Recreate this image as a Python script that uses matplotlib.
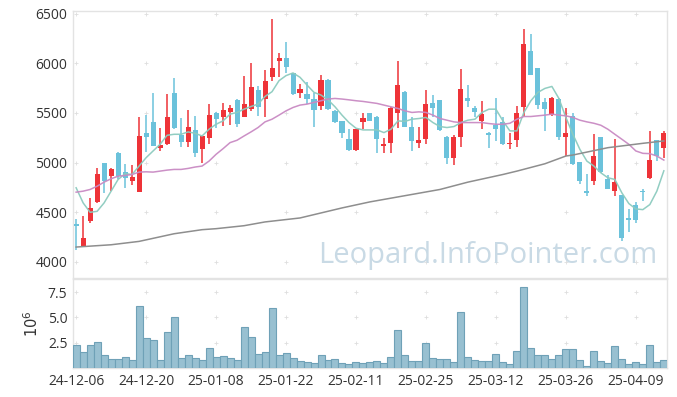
import matplotlib
matplotlib.use('Agg')
import matplotlib.pyplot as plt
import numpy as np

plt.rcParams['font.family'] = ['Open Sans', 'DejaVu Sans']

# OHLC per trading day (index 0..84)
opens = [4380, 4160, 4410, 4600, 5000, 4865, 5100, 4905, 4815, 4700,
         5295, 5405, 5150, 5190, 5705, 5275, 5210, 5325, 5135, 5250,
         5500, 5460, 5510, 5630, 5460, 5540, 5730, 5645, 5860, 6020,
         6055, 5905, 5700, 5690, 5645, 5570, 5830, 5520, 5415, 5235,
         5125, 5410, 5495, 5460, 5170, 5195, 5495, 5715, 5360, 5195,
         5235, 5600, 5630, 5260, 5050, 5260, 5655, 5550, 5420, 5300,
         5375, 5410, 5185, 5230, 5560, 6120, 5950, 5615, 5480, 5645,
         5260, 5465, 5005, 4710, 4815, 5255, 4830, 4710, 4670, 4440,
         4570, 4715, 4840, 5225, 5150]
highs = [4435, 4465, 4645, 4950, 5000, 4945, 5105, 4990, 4975, 5455,
         5475, 5705, 5345, 5690, 5850, 5445, 5530, 5470, 5270, 5590,
         5510, 5605, 5580, 5645, 5870, 6000, 5770, 5935, 6450, 6100,
         6210, 5905, 5790, 5815, 5705, 5880, 5840, 5525, 5415, 5335,
         5340, 5500, 5500, 5465, 5250, 5555, 6025, 5720, 5455, 5360,
         5730, 5680, 5635, 5265, 5275, 5945, 5780, 5570, 5625, 5305,
         5655, 5455, 5295, 5570, 6350, 6300, 5955, 5655, 5660, 5655,
         5545, 5500, 5010, 4880, 5290, 5260, 4870, 5240, 4670, 4535,
         4600, 4735, 5320, 5230, 5320]
lows = [4120, 4150, 4395, 4590, 4690, 4715, 4830, 4745, 4770, 4700,
        5105, 5165, 5115, 5180, 5340, 5160, 5160, 5060, 5000, 5190,
        5345, 5370, 5375, 5355, 5460, 5520, 5470, 5455, 5825, 5860,
        5905, 5685, 5655, 5595, 5355, 5530, 5530, 5400, 5250, 5115,
        5120, 5335, 5420, 5095, 5100, 5100, 5345, 5355, 5115, 5150,
        5185, 5455, 5320, 4990, 4975, 5160, 5555, 5460, 5335, 5150,
        5220, 5180, 5140, 5160, 5470, 5880, 5540, 5320, 5470, 5225,
        5065, 4980, 4780, 4660, 4770, 4900, 4730, 4665, 4205, 4305,
        4390, 4610, 4830, 5020, 5050]
closes = [4365, 4240, 4545, 4880, 4815, 4940, 4865, 4840, 4850, 5265,
          5262, 5170, 5175, 5460, 5345, 5210, 5355, 5100, 5270, 5480,
          5435, 5530, 5550, 5385, 5590, 5760, 5560, 5820, 5950, 6055,
          5960, 5690, 5740, 5640, 5530, 5830, 5535, 5410, 5300, 5125,
          5335, 5445, 5420, 5240, 5185, 5550, 5780, 5360, 5220, 5225,
          5590, 5545, 5330, 5050, 5260, 5745, 5620, 5505, 5490, 5275,
          5335, 5185, 5200, 5500, 6195, 5885, 5580, 5540, 5655, 5260,
          5300, 4985, 4815, 4695, 5065, 4905, 4735, 4805, 4240, 4420,
          4425, 4705, 5030, 5065, 5295]

# volume, millions
volume = [2.31, 1.58, 2.28, 2.57, 1.29, 0.89, 0.89, 1.09, 0.79, 6.17,
          2.97, 2.77, 0.79, 3.56, 5.05, 0.99, 1.29, 0.99, 0.79, 1.98,
          1.09, 1.19, 0.99, 0.79, 4.06, 3.07, 1.39, 1.58, 5.94, 1.29,
          1.49, 0.99, 0.69, 0.59, 0.50, 1.29, 0.79, 0.89, 0.50, 0.40,
          0.59, 0.50, 0.59, 0.69, 0.50, 1.09, 3.76, 1.29, 0.69, 0.69,
          2.48, 0.99, 0.89, 0.89, 0.59, 5.54, 1.09, 0.79, 0.69, 0.69,
          1.39, 0.59, 0.40, 1.68, 8.02, 1.98, 1.29, 1.29, 0.89, 1.29,
          1.88, 1.88, 0.79, 0.20, 1.68, 0.69, 0.50, 2.18, 0.89, 0.40,
          0.59, 0.40, 2.28, 0.59, 0.79]

# moving averages
ma_short = [4746, 4594, 4499, 4509, 4594, 4712, 4830, 4888, 4880, 4965,
            5049, 5117, 5184, 5275, 5285, 5285, 5309, 5295, 5268, 5336,
            5386, 5420, 5488, 5505, 5538, 5565, 5589, 5666, 5714, 5825,
            5876, 5903, 5859, 5781, 5707, 5680, 5632, 5562, 5478, 5403,
            5346, 5329, 5329, 5329, 5302, 5336, 5420, 5415, 5437, 5444,
            5455, 5403, 5363, 5353, 5363, 5403, 5427, 5437, 5505, 5538,
            5538, 5420, 5319, 5319, 5505, 5623, 5707, 5747, 5767, 5646,
            5455, 5285, 5133, 5015, 4965, 4897, 4847, 4830, 4695, 4587,
            4533, 4526, 4577, 4712, 4917]
ma_mid = [4702, 4712, 4729, 4762, 4803, 4837, 4863, 4870, 4880, 4904,
          4907, 4904, 4914, 4924, 4931, 4931, 4941, 4955, 4965, 5015,
          5083, 5140, 5201, 5225, 5268, 5309, 5353, 5410, 5437, 5478,
          5521, 5555, 5579, 5589, 5606, 5623, 5640, 5646, 5640, 5632,
          5623, 5616, 5606, 5596, 5579, 5562, 5545, 5521, 5505, 5511,
          5505, 5478, 5444, 5427, 5410, 5403, 5403, 5403, 5403, 5393,
          5386, 5386, 5396, 5437, 5464, 5464, 5471, 5478, 5488, 5478,
          5471, 5455, 5427, 5410, 5396, 5376, 5336, 5285, 5235, 5184,
          5117, 5093, 5090, 5066, 5025]
ma_long_idx = [0, 5, 9, 14, 18, 20, 24, 27, 32, 38, 42, 52, 56, 61, 63, 67, 70, 71, 76, 81, 84]
ma_long = [4149, 4172, 4206, 4283, 4324, 4334, 4364, 4402, 4442, 4543, 4604,
           4729, 4803, 4880, 4914, 4988, 5066, 5076, 5150, 5194, 5218]

tick_idx = [0, 10, 20, 30, 40, 50, 60, 70, 80]
tick_labels = ['24-12-06', '24-12-20', '25-01-08', '25-01-22', '25-02-11',
               '25-02-25', '25-03-12', '25-03-26', '25-04-09']

RED = '#ee3338'
BLUE = '#6bc2db'
GRID = '#dedede'
SPINE = '#e3e3e3'
TXT = '#333333'

x = np.arange(len(opens))
o = np.array(opens)
c = np.array(closes)
up = c >= o

fig = plt.figure(figsize=(6.77, 3.97), dpi=100)
ax = fig.add_axes([0.1078, 0.2997, 0.8774, 0.6726])
axv = fig.add_axes([0.1078, 0.0730, 0.8774, 0.2242])

# candles
cols = np.where(up, RED, BLUE)
ax.vlines(x, lows, highs, colors=cols, linewidth=1.1, zorder=3)
ax.bar(x, np.maximum(np.abs(c - o), 8), bottom=np.minimum(o, c), width=0.72,
       color=cols, zorder=4)

ax.plot(x, ma_short, color='#8ccbbf', lw=1.1, alpha=0.95, zorder=5)
ax.plot(x, ma_mid, color='#c98ac3', lw=1.1, alpha=0.95, zorder=5)
ax.plot(ma_long_idx, ma_long, color='#8e8e8e', lw=1.1, zorder=5)

ax.set_xlim(-0.45, 84.45)
ax.set_ylim(3837, 6527)
ax.set_yticks([4000, 4500, 5000, 5500, 6000, 6500])
ax.set_xticks(tick_idx)
ax.set_xticklabels([])
ax.text(0.983, 0.055, 'Leopard.InfoPointer.com', transform=ax.transAxes,
        ha='right', va='baseline', fontsize=21, color='#c9dae5', zorder=1)

# volume
axv.bar(x, volume, width=1.0, color='#98c0d1', edgecolor='#6fa1b7',
        linewidth=0.8, zorder=3)
axv.set_xlim(-0.45, 84.45)
axv.set_ylim(0, 8.8)
axv.set_yticks([2.5, 5.0, 7.5])
axv.set_yticklabels(['2.5', '5.0', '7.5'])
axv.set_xticks(tick_idx)
axv.set_xticklabels(tick_labels)
axv.set_ylabel('$10^6$', fontsize=10.5, color=TXT, labelpad=4)

for a in (ax, axv):
    a.tick_params(length=0, labelsize=10, colors=TXT, pad=4)
    for s in a.spines.values():
        s.set_color(SPINE)
        s.set_linewidth(1)
    # small plus marks at grid crossings
    yt = a.get_yticks()
    gx, gy = np.meshgrid(tick_idx, yt)
    a.scatter(gx.ravel(), gy.ravel(), marker='+', s=12, color=GRID,
              linewidths=0.6, zorder=0)

fig.savefig('out.png', dpi=100)
